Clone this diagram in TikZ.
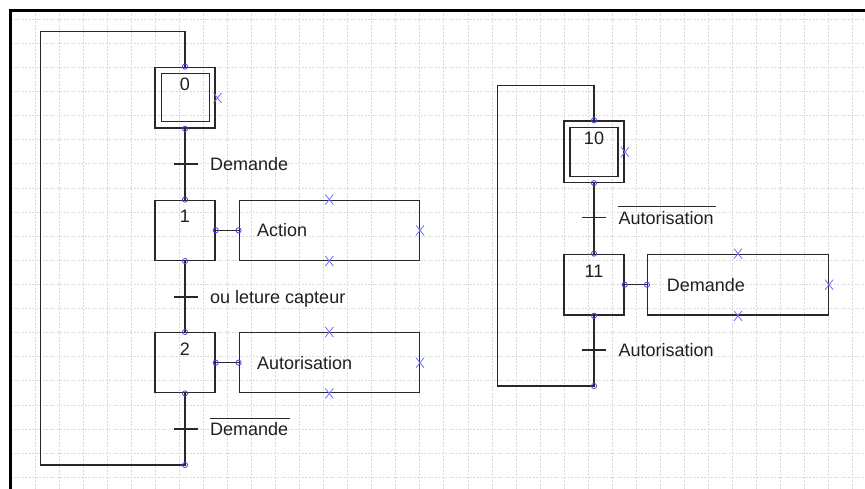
\documentclass[tikz,border=0pt]{standalone}
\usepackage{fontspec}
\setmainfont{Liberation Sans}
\definecolor{portblue}{RGB}{70,70,235}
\definecolor{crossblue}{RGB}{110,110,255}
\definecolor{gridgray}{RGB}{218,218,218}
\definecolor{inkgray}{RGB}{40,40,40}
\newcommand\portc[1]{\draw[portstyle] (#1) circle (2.6);}
\newcommand\mycross[1]{\draw[crossstyle] (#1) ++(-4,-5) -- ++(8,10) (#1) ++(-4,5) -- ++(8,-10);}
\begin{document}
\begin{tikzpicture}[x=1pt,y=-1pt,
  gridline/.style={draw=gridgray, line width=0.8pt, dash pattern=on 2pt off 1.5pt},
  wire/.style={draw=inkgray, line width=1.5pt},
  stepbox/.style={draw=inkgray, line width=1.5pt, minimum width=60pt, minimum height=60pt, inner sep=0pt},
  innerbox/.style={draw=inkgray, line width=1.5pt, minimum width=48pt, minimum height=48pt, inner sep=0pt},
  actbox/.style={draw=inkgray, line width=1.5pt, minimum width=180pt, minimum height=60pt, inner sep=0pt},
  txt/.style={inner sep=0pt, font=\fontsize{18}{21}\selectfont, text=black!88},
  lbl/.style={txt, anchor=base west},
  portstyle/.style={draw=portblue, line width=0.8pt, fill=none},
  crossstyle/.style={draw=crossblue, line width=0.8pt},
  tick/.style={draw=inkgray, line width=1.4pt},
  barline/.style={draw=inkgray, line width=1.1pt}
]
\useasboundingbox (0,0) rectangle (865,489);
\fill[white] (0,0) rectangle (865,489);
% grid
\foreach \i in {0,...,34} \draw[gridline] ({35+24.05*\i},11) -- ({35+24.05*\i},489);
\foreach \j in {0,...,19} \draw[gridline] (11,{19.3+24.1*\j}) -- (865,{19.3+24.1*\j});
% frame
\draw[line width=2.8pt, black] (10.6,489) -- (10.6,10.6) -- (865,10.6);

% ---------- left graph ----------
\node[stepbox, minimum height=60.7pt] (s0) at (185,97.7) {};
\node[innerbox] (s0i) at (185.3,97.7) {};
\node[txt] (n0) at (185,84) {0};
\node[stepbox] (s1) at (185,230.3) {};
\node[txt] (n1) at (185,216) {1};
\node[stepbox] (s2) at (185,362.7) {};
\node[txt] (n2) at (185,349) {2};
\node[actbox] (a1) at (329.3,230.3) {};
\node[actbox] (a2) at (329.3,362.7) {};
\node[lbl] (la1) at (257,236.8) {Action};
\node[lbl] (la2) at (257,369.1) {Autorisation};

\coordinate (t0) at (185,31.3);
\coordinate (lt) at (40.7,31.3);
\coordinate (lb) at (40.7,465);
\coordinate (e0) at (185,465);
\coordinate (tr1) at (186,164);
\coordinate (tr2) at (186,297);
\coordinate (tr3) at (186,429);

\draw[wire] (s0.south) -- (s1.north);
\draw[wire] (s1.south) -- (s2.north);
\draw[wire] (s2.south) -- (e0) -- (lb) -- (lt) -- (t0) -- (s0.north);
\draw[wire] (s1.east) -- (a1.west);
\draw[wire] (s2.east) -- (a2.west);
\draw[tick] (tr1) ++(-12,0) -- ++(24,0);
\draw[tick] (tr2) ++(-12,0) -- ++(24,0);
\draw[tick] (tr3) ++(-12,0) -- ++(24,0);
\node[lbl] (c1) at (210,170.4) {Demande};
\node[lbl] (c2) at (210,303.4) {ou leture capteur};
\node[lbl] (c3) at (210,435.4) {Demande};
\draw[barline] ([yshift=4pt]c3.north west) -- ([xshift=2pt,yshift=4pt]c3.north east);

\portc{s0.north}\portc{s0.south}
\portc{s1.north}\portc{s1.south}\portc{s1.east}\portc{a1.west}
\portc{s2.north}\portc{s2.south}\portc{s2.east}\portc{a2.west}
\portc{e0}
\mycross{217.5,98}
\mycross{a1.north}\mycross{a1.south}\mycross{a1.east}
\mycross{a2.north}\mycross{a2.south}\mycross{a2.east}

% ---------- right graph ----------
\node[stepbox, minimum height=61.3pt] (s10) at (594,151.7) {};
\node[innerbox, minimum height=49pt] (s10i) at (594.2,152.2) {};
\node[txt] (n10) at (594,138.3) {10};
\node[stepbox, minimum height=60.7pt] (s11) at (594,284.7) {};
\node[txt] (n11) at (594,271) {11};
\node[actbox, minimum width=180.6pt, minimum height=60.7pt] (a11) at (738,284.7) {};
\node[lbl] (la11) at (666.7,291) {Demande};

\coordinate (t10) at (594,85.5);
\coordinate (rt) at (497.3,85.5);
\coordinate (rb) at (497.3,386);
\coordinate (e10) at (594,386);
\coordinate (tr10) at (594.3,217.7);
\coordinate (tr11) at (594.3,350);

\draw[wire] (s10.south) -- (s11.north);
\draw[wire] (s11.south) -- (e10) -- (rb) -- (rt) -- (t10) -- (s10.north);
\draw[wire] (s11.east) -- (a11.west);
\draw[tick] (tr10) ++(-12,0) -- ++(24,0);
\draw[tick] (tr11) ++(-12,0) -- ++(24,0);
\node[lbl] (c10) at (618.3,224.1) {Autorisation};
\draw[barline] ([yshift=4pt]c10.north west) -- ([xshift=2pt,yshift=4pt]c10.north east);
\node[lbl] (c11) at (618.3,356.4) {Autorisation};

\portc{s10.north}\portc{s10.south}
\portc{s11.north}\portc{s11.south}\portc{s11.east}\portc{a11.west}
\portc{e10}
\mycross{625,152}
\mycross{a11.north}\mycross{a11.south}\mycross{a11.east}
\end{tikzpicture}
\end{document}
